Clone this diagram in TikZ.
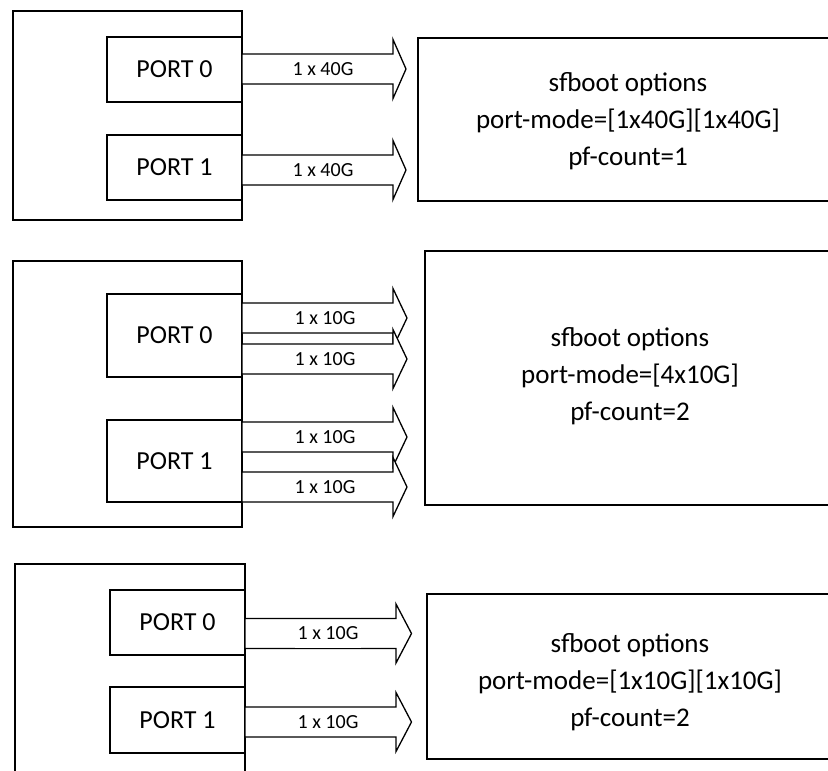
\documentclass[tikz,border=0pt]{standalone}
\usepackage{fontspec}
\setmainfont{Carlito}
\tikzset{
  frame/.style={draw, line width=1.3pt, minimum width=229pt, inner sep=0pt},
  portbox/.style={draw, fill=white, line width=1.3pt, minimum width=135pt, inner sep=0pt,
    font=\fontsize{26}{30}\selectfont},
  optbox/.style={draw, line width=1.3pt, inner sep=0pt},
  opttext/.style={align=center, inner sep=0pt, font=\fontsize{27}{37}\selectfont},
  fatarrow/.style={draw, fill=white, line width=1.3pt, line join=miter},
  speed/.style={fill=white, inner sep=0pt, minimum width=66pt, minimum height=28pt,
    font=\fontsize{20}{24}\selectfont}
}
% wide link arrow: start x, centre y, head base x, tip x
\newcommand\linkarrow[4]{%
  \draw[fatarrow] (#1,#2-15) -- (#3,#2-15) -- (#3,#2-29.5) -- (#4,#2)
    -- (#3,#2+29.5) -- (#3,#2+15) -- (#1,#2+15) -- cycle;}
\begin{document}
\begin{tikzpicture}[x=1pt, y=-1pt]
\useasboundingbox (0,0) rectangle (828,771);
\clip (0,0) rectangle (828,771);

% ---------- 2 x 40G ----------
\node[frame, minimum height=209pt] (nicA) at (127.5,115.5) {};
\node[portbox, minimum height=65pt] (a0) at (174.5,69.5) {PORT 0};
\node[portbox, minimum height=65pt] (a1) at (174.5,167.5) {PORT 1};
\linkarrow{242}{69}{393}{406}
\linkarrow{242}{170}{393}{406}
\node[speed] at (323,69) {1 x 40G};
\node[speed] at (323,170) {1 x 40G};
\node[optbox, minimum width=420pt, minimum height=163pt] (optA) at (628,119.5) {};
\node[opttext] at (628,121) {sfboot options\\port-mode=[1x40G][1x40G]\\pf-count=1};

% ---------- 4 x 10G ----------
\node[frame, minimum height=266pt] (nicB) at (127.5,394) {};
\node[portbox, minimum height=83pt] (b0) at (174.5,335.5) {PORT 0};
\node[portbox, minimum height=82pt] (b1) at (174.5,461) {PORT 1};
\linkarrow{242}{318}{393}{407}
\linkarrow{242}{359}{393}{407}
\linkarrow{242}{437}{393}{407}
\linkarrow{242}{487}{393}{407}
\node[speed] at (325,318) {1 x 10G};
\node[speed] at (325,359) {1 x 10G};
\node[speed] at (325,437) {1 x 10G};
\node[speed] at (325,487) {1 x 10G};
\node[optbox, minimum width=410pt, minimum height=254pt] (optB) at (630,378) {};
\node[opttext] at (630,376.5) {sfboot options\\port-mode=[4x10G]\\pf-count=2};

% ---------- 2 x 10G ----------
\node[frame, minimum width=230pt, minimum height=236pt] (nicC) at (130,682) {};
\node[portbox, minimum height=65pt] (c0) at (177.5,622.5) {PORT 0};
\node[portbox, minimum height=66pt] (c1) at (177.5,720) {PORT 1};
\linkarrow{245}{633.5}{396}{411.5}
\linkarrow{245}{722}{396}{411.5}
\node[speed] at (328,633.5) {1 x 10G};
\node[speed] at (328,722) {1 x 10G};
\node[optbox, minimum width=406pt, minimum height=165pt] (optC) at (630,676.5) {};
\node[opttext] at (630,682.5) {sfboot options\\port-mode=[1x10G][1x10G]\\pf-count=2};
\end{tikzpicture}
\end{document}
